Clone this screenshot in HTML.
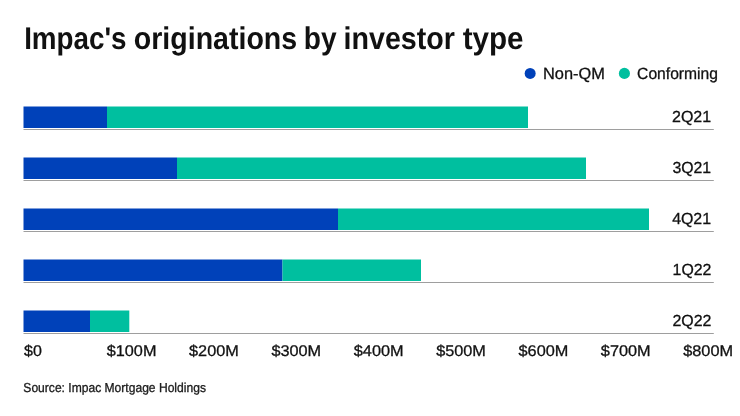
<!DOCTYPE html>
<html><head><meta charset="utf-8">
<style>
html,body{margin:0;padding:0;background:#fff;}
body{width:740px;height:416px;overflow:hidden;position:relative;}
svg{position:absolute;left:0;top:0;will-change:transform;}
text{font-family:"Liberation Sans",sans-serif;text-rendering:geometricPrecision;}
.n{stroke:#111;stroke-width:0.3px;}
</style></head><body>
<svg width="740" height="416" viewBox="0 0 740 416" xmlns="http://www.w3.org/2000/svg">
<text x="24.14" y="49" font-size="31.4" font-weight="bold" fill="#111" textLength="102.40" lengthAdjust="spacingAndGlyphs">Impac's</text>
<text x="133.78" y="49" font-size="31.4" font-weight="bold" fill="#111" textLength="163.39" lengthAdjust="spacingAndGlyphs">originations</text>
<text x="303.85" y="49" font-size="31.4" font-weight="bold" fill="#111" textLength="32.80" lengthAdjust="spacingAndGlyphs">by</text>
<text x="343.50" y="49" font-size="31.4" font-weight="bold" fill="#111" textLength="111.43" lengthAdjust="spacingAndGlyphs">investor</text>
<text x="462.64" y="49" font-size="31.4" font-weight="bold" fill="#111" textLength="60.98" lengthAdjust="spacingAndGlyphs">type</text>
<circle cx="530.15" cy="73.4" r="5.5" fill="#0041b9"/>
<text class="n" x="542.96" y="79" font-size="16.3" font-weight="normal" fill="#111" textLength="61.89" lengthAdjust="spacingAndGlyphs">Non-QM</text>
<circle cx="624.4" cy="73.4" r="5.55" fill="#00bf9f"/>
<text class="n" x="637.11" y="79" font-size="16.3" font-weight="normal" fill="#111" textLength="80.90" lengthAdjust="spacingAndGlyphs">Conforming</text>
<rect x="23.5" y="106.5" width="83.50" height="21.5" fill="#0041b9"/>
<rect x="107" y="106.5" width="421.00" height="21.5" fill="#00bf9f"/>
<rect x="23.5" y="129" width="690.30" height="1" fill="#9e9e9e"/>
<text class="n" x="672.00" y="122" font-size="16" font-weight="normal" fill="#111" textLength="39.08" lengthAdjust="spacingAndGlyphs">2Q21</text>
<rect x="23.5" y="157.5" width="153.50" height="21.5" fill="#0041b9"/>
<rect x="177" y="157.5" width="409.00" height="21.5" fill="#00bf9f"/>
<rect x="23.5" y="180" width="690.30" height="1" fill="#9e9e9e"/>
<text class="n" x="672.40" y="173" font-size="16" font-weight="normal" fill="#111" textLength="38.67" lengthAdjust="spacingAndGlyphs">3Q21</text>
<rect x="23.5" y="208.5" width="314.50" height="21.5" fill="#0041b9"/>
<rect x="338" y="208.5" width="311.00" height="21.5" fill="#00bf9f"/>
<rect x="23.5" y="231" width="690.30" height="1" fill="#9e9e9e"/>
<text class="n" x="672.13" y="224" font-size="16" font-weight="normal" fill="#111" textLength="38.94" lengthAdjust="spacingAndGlyphs">4Q21</text>
<rect x="23.5" y="259.5" width="259.00" height="21.5" fill="#0041b9"/>
<rect x="282.5" y="259.5" width="138.50" height="21.5" fill="#00bf9f"/>
<rect x="23.5" y="282" width="690.30" height="1" fill="#9e9e9e"/>
<text class="n" x="672.59" y="275" font-size="16" font-weight="normal" fill="#111" textLength="38.81" lengthAdjust="spacingAndGlyphs">1Q22</text>
<rect x="23.5" y="310.5" width="66.50" height="21.5" fill="#0041b9"/>
<rect x="90" y="310.5" width="39.30" height="21.5" fill="#00bf9f"/>
<rect x="23.5" y="333" width="690.30" height="1" fill="#9e9e9e"/>
<text class="n" x="672.40" y="326" font-size="16" font-weight="normal" fill="#111" textLength="39.00" lengthAdjust="spacingAndGlyphs">2Q22</text>
<text class="n" x="24.08" y="356" font-size="15.5" font-weight="normal" fill="#111" textLength="17.80" lengthAdjust="spacingAndGlyphs">$0</text>
<text class="n" x="106.73" y="356" font-size="15.5" font-weight="normal" fill="#111" textLength="49.71" lengthAdjust="spacingAndGlyphs">$100M</text>
<text class="n" x="189.09" y="356" font-size="15.5" font-weight="normal" fill="#111" textLength="49.73" lengthAdjust="spacingAndGlyphs">$200M</text>
<text class="n" x="271.45" y="356" font-size="15.5" font-weight="normal" fill="#111" textLength="49.75" lengthAdjust="spacingAndGlyphs">$300M</text>
<text class="n" x="353.81" y="356" font-size="15.5" font-weight="normal" fill="#111" textLength="49.77" lengthAdjust="spacingAndGlyphs">$400M</text>
<text class="n" x="436.17" y="356" font-size="15.5" font-weight="normal" fill="#111" textLength="49.79" lengthAdjust="spacingAndGlyphs">$500M</text>
<text class="n" x="518.53" y="356" font-size="15.5" font-weight="normal" fill="#111" textLength="49.81" lengthAdjust="spacingAndGlyphs">$600M</text>
<text class="n" x="600.88" y="356" font-size="15.5" font-weight="normal" fill="#111" textLength="49.83" lengthAdjust="spacingAndGlyphs">$700M</text>
<text class="n" x="683.24" y="356" font-size="15.5" font-weight="normal" fill="#111" textLength="49.85" lengthAdjust="spacingAndGlyphs">$800M</text>
<text class="n" x="23.35" y="392" font-size="13" font-weight="normal" fill="#222" textLength="182.58" lengthAdjust="spacingAndGlyphs">Source: Impac Mortgage Holdings</text>
</svg>
</body></html>
